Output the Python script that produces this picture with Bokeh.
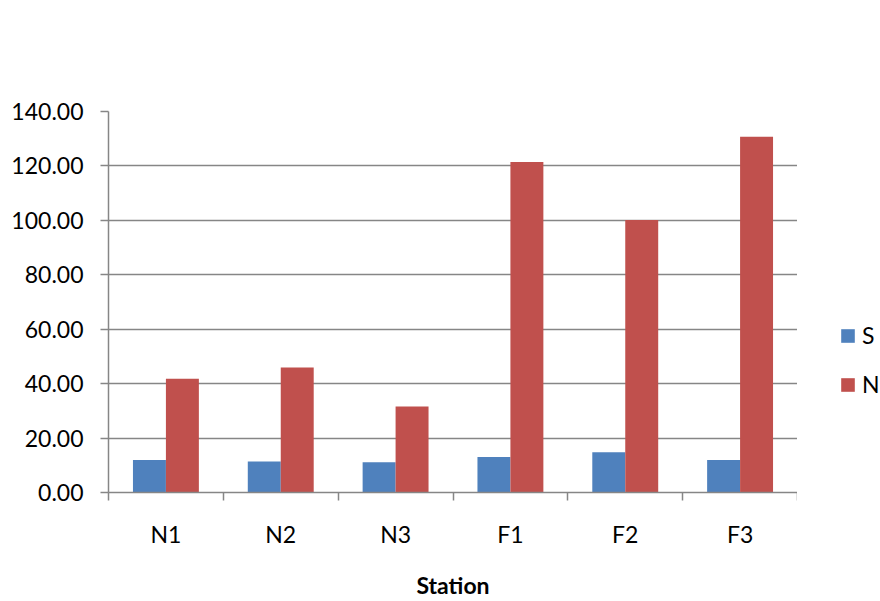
from bokeh.plotting import figure
from bokeh.models import (ColumnDataSource, Range1d, FixedTicker, NumeralTickFormatter,
                          Legend, LegendItem)
from bokeh.layouts import row
from bokeh.embed import file_html
from bokeh.resources import INLINE

stations = ["N1", "N2", "N3", "F1", "F2", "F3"]
s_values = [11.9, 11.4, 11.1, 13.0, 14.8, 11.9]
n_values = [41.8, 45.9, 31.6, 121.4, 100.1, 130.7]
y_ticks = [0, 20, 40, 60, 80, 100, 120, 140]
series_names = ["S", "N"]

FONT = "Lato"
GRID = "#868686"
BLUE = "#4F81BD"
RED = "#C0504D"

centers = [i + 0.5 for i in range(len(stations))]
bw = 0.287
src = ColumnDataSource(dict(
    xs=[c - bw / 2 for c in centers],
    xn=[c + bw / 2 for c in centers],
    s=s_values, n=n_values,
))

p = figure(width=797, height=601, output_backend="svg", toolbar_location=None,
           x_range=Range1d(0, len(stations)), y_range=Range1d(0, 140),
           min_border_left=108, min_border_right=0, min_border_top=111,
           min_border_bottom=107)
p.outline_line_color = None
p.background_fill_color = "white"
p.border_fill_color = "white"

rs = p.vbar(x="xs", top="s", width=bw, source=src, fill_color=BLUE, line_color=None)
rn = p.vbar(x="xn", top="n", width=bw, source=src, fill_color=RED, line_color=None)

# y axis
p.yaxis.ticker = FixedTicker(ticks=y_ticks)
p.yaxis.formatter = NumeralTickFormatter(format="0.00")
p.yaxis.axis_line_color = GRID
p.yaxis.axis_line_width = 1.5
p.yaxis.major_tick_line_color = GRID
p.yaxis.major_tick_line_width = 1.5
p.yaxis.major_tick_out = 8
p.yaxis.major_tick_in = 0
p.yaxis.minor_tick_line_color = None
p.yaxis.major_label_text_font = FONT
p.yaxis.major_label_text_font_size = "23px"
p.yaxis.major_label_text_color = "black"
p.yaxis.major_label_standoff = 17

# x axis
p.xaxis.ticker = FixedTicker(ticks=centers, minor_ticks=list(range(len(stations) + 1)))
p.xaxis.major_label_overrides = {c: s for c, s in zip(centers, stations)}
p.xaxis.axis_line_color = GRID
p.xaxis.axis_line_width = 1.5
p.xaxis.major_tick_line_color = None
p.xaxis.major_tick_out = 0
p.xaxis.major_tick_in = 0
p.xaxis.minor_tick_line_color = GRID
p.xaxis.minor_tick_line_width = 1.5
p.xaxis.minor_tick_out = 8
p.xaxis.minor_tick_in = 0
p.xaxis.major_label_text_font = FONT
p.xaxis.major_label_text_font_size = "23px"
p.xaxis.major_label_text_color = "black"
p.xaxis.major_label_standoff = 19
p.xaxis.axis_label = "Station"
p.xaxis.axis_label_text_font = FONT
p.xaxis.axis_label_text_font_size = "23px"
p.xaxis.axis_label_text_font_style = "bold"
p.xaxis.axis_label_text_color = "black"
p.xaxis.axis_label_standoff = 20

p.xgrid.grid_line_color = None
p.ygrid.ticker = FixedTicker(ticks=y_ticks)
p.ygrid.grid_line_color = GRID
p.ygrid.grid_line_width = 1.5

# legend panel to the right of the chart
lf = figure(width=83, height=601, output_backend="svg", toolbar_location=None,
            x_range=Range1d(0, 1), y_range=Range1d(0, 1),
            min_border=0, x_axis_type=None, y_axis_type=None)
lf.outline_line_color = None
lf.xgrid.grid_line_color = None
lf.ygrid.grid_line_color = None
# one off-range point per series so the legend swatches have a colour to draw
proxy = ColumnDataSource(dict(x=[-10], top=[0]))
ls = lf.vbar(x="x", top="top", width=0.1, source=proxy, fill_color=BLUE, line_color=None)
ln = lf.vbar(x="x", top="top", width=0.1, source=proxy, fill_color=RED, line_color=None)

legend = Legend(items=[LegendItem(label=series_names[0], renderers=[ls]),
                       LegendItem(label=series_names[1], renderers=[ln])],
                location=(42, 94), orientation="vertical",
                border_line_color=None, background_fill_alpha=0,
                padding=0, margin=0, spacing=21,
                glyph_width=17, glyph_height=17, label_standoff=6,
                label_text_font=FONT, label_text_font_size="23px",
                label_text_color="black")
lf.add_layout(legend, "center")

layout = row(p, lf, spacing=0)
open("out.html", "w").write(file_html(layout, INLINE))
